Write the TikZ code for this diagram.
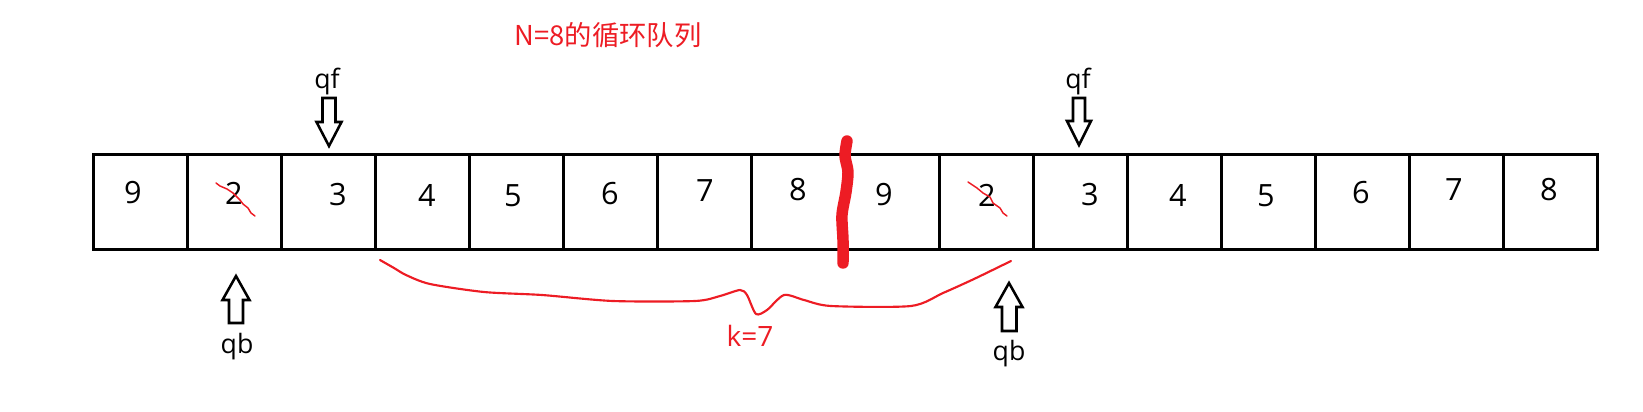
\documentclass[tikz,border=0pt]{standalone}
\usepackage{fontspec}
\setmainfont{Open Sans}
\newfontfamily\cjk{Noto Sans CJK SC}
\definecolor{pred}{RGB}{237,28,36}
\begin{document}
\begin{tikzpicture}[x=0.75pt,y=-0.75pt,
  cell/.style={draw=black,line width=2.25pt,minimum width=94.06*0.75pt,minimum height=95*0.75pt,inner sep=0pt,outer sep=0pt},
  digit/.style={font=\fontsize{23}{26}\selectfont,inner sep=0pt},
  lbl/.style={font=\fontsize{20}{24}\selectfont,inner sep=0pt},
  blockarrow/.style={draw=black,line width=1.9pt,fill=white,line join=miter},
  strike/.style={draw=pred,line width=1.1pt,line join=round,line cap=round},
  redtext/.style={text=pred,inner sep=0pt}]
\useasboundingbox (0,0) rectangle (1643,411);
% cells
\foreach \i in {0,...,15}{
  \node[cell] (c\i) at ({93+94.06*(\i+0.5)},201.5) {};
}
% digits
\node[digit] (d0) at (133,193) {9};
\node[digit] (d1) at (234,193) {2};
\node[digit] (d2) at (338,195) {3};
\node[digit] (d3) at (427,195) {4};
\node[digit] (d4) at (513,196) {5};
\node[digit] (d5) at (610,194) {6};
\node[digit] (d6) at (705,191) {7};
\node[digit] (d7) at (798,190) {8};
\node[digit] (d8) at (884,195) {9};
\node[digit] (d9) at (987,195) {2};
\node[digit] (d10) at (1090,195) {3};
\node[digit] (d11) at (1178,195) {4};
\node[digit] (d12) at (1266,196) {5};
\node[digit] (d13) at (1361,193) {6};
\node[digit] (d14) at (1454,190) {7};
\node[digit] (d15) at (1549,190) {8};
% strike marks
\draw[strike] (216,183) -- (220,186) -- (227,189) -- (233,193) -- (240,200) -- (243,204) -- (248,208) -- (251,213) -- (255,216);
\draw[strike] (968,182) -- (977,188) -- (983,193) -- (990,197) -- (993,203) -- (1000,208) -- (1003,213) -- (1007,216);
% thick red separator
\draw[pred,line width=8.6pt,line cap=round,line join=round] plot[smooth,tension=0.5] coordinates {(847,141) (845,156) (848,172) (846,192) (842,215) (843,240) (843,263)};
% title
\node[redtext,font=\cjk\fontsize{20.5}{24}\selectfont] (title) at (608,35) {N=8的循环队列};
% qf arrows
\draw[blockarrow] (322.5,98) -- (335.5,98) -- (335.5,122) -- (341.5,122) -- (329,146) -- (316.5,122) -- (322.5,122) -- cycle;
\node[lbl] (qf1) at (327,81) {qf};
\draw[blockarrow] (1073,98) -- (1085,98) -- (1085,121) -- (1091,121) -- (1079,145) -- (1067,121) -- (1073,121) -- cycle;
\node[lbl] (qf2) at (1078,81) {qf};
% qb arrows
\draw[blockarrow] (236,276) -- (249.5,300) -- (243,300) -- (243,323) -- (229,323) -- (229,300) -- (222.5,300) -- cycle;
\node[lbl] (qb1) at (237,347) {qb};
\draw[blockarrow] (1009,283) -- (1022.5,307) -- (1016.5,307) -- (1016.5,331) -- (1002,331) -- (1002,307) -- (995.5,307) -- cycle;
\node[lbl] (qb2) at (1009,354) {qb};
% brace curve
\draw[pred,line width=1.6pt,line join=round,line cap=round] plot[smooth,tension=0.45] coordinates {(380,260) (394,268) (406,275) (430,284) (484,292) (542,295) (613,301) (695,301) (720,296) (740,290) (747,295) (756,314) (767,310) (784,295) (804,300) (831,306) (911,306) (943,293) (974,279) (1011,261)};
\node[redtext,font=\fontsize{21}{25}\selectfont] (k) at (750,336) {k=7};
\end{tikzpicture}
\end{document}
